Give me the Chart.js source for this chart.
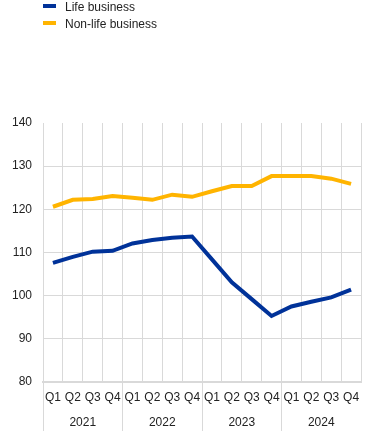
<!DOCTYPE html>
<html>
<head>
<meta charset="utf-8">
<script src="https://cdn.jsdelivr.net/npm/chart.js@4"></script>
<style>
  html, body { margin: 0; padding: 0; background: #fff; }
  #wrap { position: relative; width: 372px; height: 431px; }
  #c { position: absolute; left: 0; top: 0; }
  .leg { position: absolute; left: 43px; font: 12px "Liberation Sans", Arial, sans-serif; color: #222; white-space: nowrap; }
  .leg i { position: absolute; left: 0; width: 13px; height: 4px; }
  .leg span { position: absolute; left: 22px; top: 2px; line-height: 14px; }
</style>
</head>
<body>
<div id="wrap">
  <canvas id="c" width="372" height="431"></canvas>
  <div class="leg" style="top:-2px"><i id="b1" style="top:6px"></i><span id="t1"></span></div>
  <div class="leg" style="top:15px"><i id="b2" style="top:6px"></i><span id="t2"></span></div>
</div>
<script>
const quarters = ['Q1','Q2','Q3','Q4','Q1','Q2','Q3','Q4','Q1','Q2','Q3','Q4','Q1','Q2','Q3','Q4'];
const years = ['2021','2022','2023','2024'];
const seriesNames = ['Life business', 'Non-life business'];
const lifeBusiness = [107.6, 109.0, 110.2, 110.4, 112.1, 112.9, 113.4, 113.7, 108.4, 103.1, 99.2, 95.3, 97.5, 98.6, 99.6, 101.4];
const nonLifeBusiness = [120.6, 122.2, 122.4, 123.1, 122.7, 122.2, 123.4, 122.9, 124.2, 125.4, 125.4, 127.7, 127.7, 127.7, 127.1, 125.9];
const yTicks = [80, 90, 100, 110, 120, 130, 140];

const colors = ['#003299', '#ffb400'];
const gridCol = '#d9d9d9';
const font = { family: '"Liberation Sans", Arial, sans-serif', size: 12 };

document.getElementById('t1').textContent = seriesNames[0];
document.getElementById('t2').textContent = seriesNames[1];
document.getElementById('b1').style.background = colors[0];
document.getElementById('b2').style.background = colors[1];

new Chart(document.getElementById('c'), {
  type: 'line',
  data: {
    labels: quarters,
    datasets: [
      { label: seriesNames[0], data: lifeBusiness, borderColor: colors[0], backgroundColor: colors[0], borderWidth: 4, pointRadius: 0, tension: 0, xAxisID: 'x', yAxisID: 'y' },
      { label: seriesNames[1], data: nonLifeBusiness, borderColor: colors[1], backgroundColor: colors[1], borderWidth: 4, pointRadius: 0, tension: 0, xAxisID: 'x', yAxisID: 'y' }
    ]
  },
  options: {
    responsive: false,
    animation: false,
    layout: { padding: { top: 123, right: 11, left: 0, bottom: 0 } },
    plugins: { legend: { display: false }, tooltip: { enabled: false } },
    scales: {
      x: {
        type: 'category',
        position: 'bottom',
        offset: true,
        grid: {
          offset: true,
          color: gridCol,
          lineWidth: 1,
          drawTicks: true,
          tickLength: 49,
          tickColor: (ctx) => (ctx.index % 4 === 0 ? gridCol : 'rgba(0,0,0,0)')
        },
        border: { display: true, color: gridCol, width: 2 },
        ticks: { font: font, color: '#222', padding: -41, autoSkip: false, maxRotation: 0 },
        afterFit: (s) => { s.height = 25; }
      },
      x2: {
        type: 'category',
        position: 'bottom',
        labels: years,
        offset: true,
        grid: { display: false },
        border: { display: false },
        ticks: { font: font, color: '#222', padding: 0, autoSkip: false, maxRotation: 0 },
        afterFit: (s) => { s.height = 24; }
      },
      y: {
        min: 80,
        max: 140,
        afterBuildTicks: (s) => { s.ticks = yTicks.map(v => ({ value: v })); },
        grid: {
          color: (ctx) => (ctx.tick && ctx.tick.value === 140 ? 'rgba(0,0,0,0)' : gridCol),
          drawTicks: false
        },
        border: { display: false },
        ticks: { font: font, color: '#222', padding: 11 },
        afterFit: (s) => { s.width = 43; }
      }
    }
  }
});
</script>
</body>
</html>
